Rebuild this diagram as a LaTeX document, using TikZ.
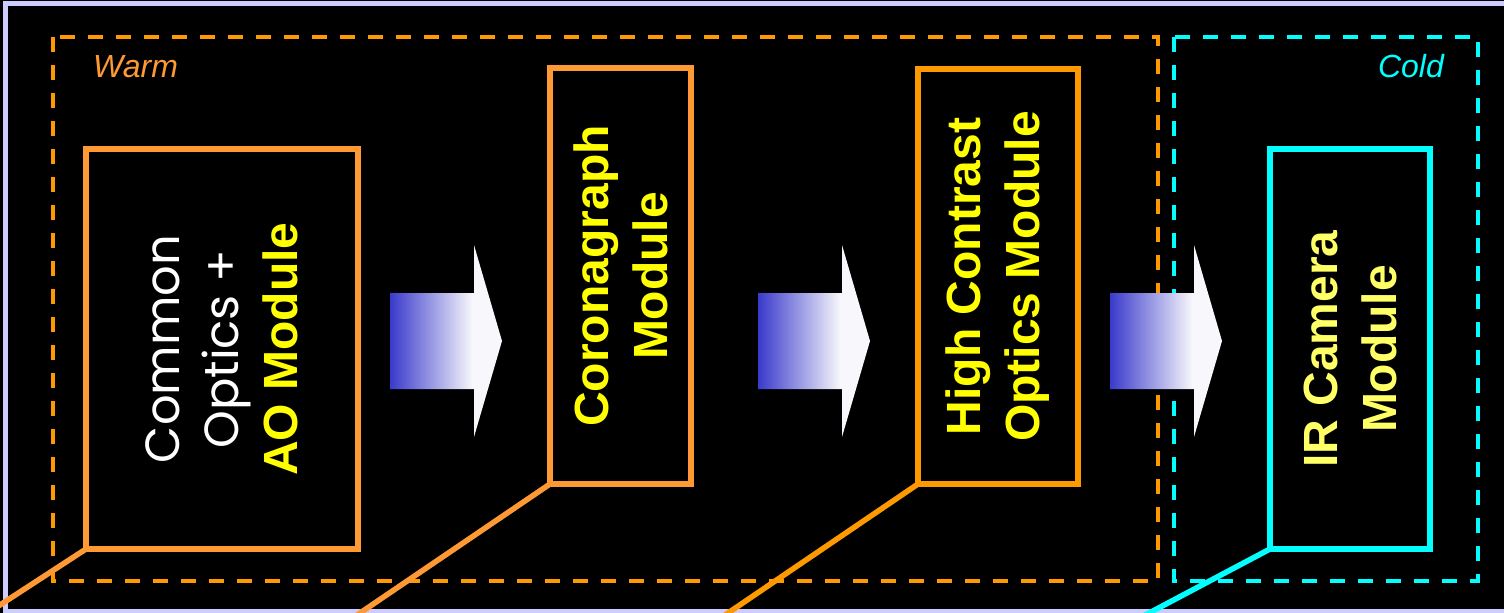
\documentclass[tikz,border=0pt]{standalone}
\usepackage{fontspec}
\setmainfont{Liberation Sans}
\newfontfamily\geofont{Poppins}

\definecolor{framelav}{RGB}{204,204,255}
\definecolor{warmorange}{RGB}{255,153,51}
\definecolor{deeporange}{RGB}{255,153,0}
\definecolor{coldcyan}{RGB}{0,255,255}
\definecolor{modyellow}{RGB}{255,255,0}
\definecolor{paleyellow}{RGB}{255,255,102}
\definecolor{arrowblue}{RGB}{58,58,204}
\definecolor{arrowwhite}{RGB}{248,248,252}

% blue-to-white fill of the flow arrows (path box maps to 25bp..75bp)
\pgfdeclarehorizontalshading{arrowgrad}{100bp}{%
  color(0bp)=(arrowblue); color(25bp)=(arrowblue);
  color(62bp)=(arrowwhite); color(100bp)=(arrowwhite)}

\begin{document}
\begin{tikzpicture}[x=1bp,y=-1bp,
  zone/.style={line width=4.5bp,dash pattern=on 15bp off 13bp},
  modbox/.style={draw=#1,line width=6bp,inner sep=0pt,outer sep=0pt},
  modtext/.style={rotate=90,align=center,inner sep=0pt,
    font=\fontsize{48bp}{59bp}\selectfont\bfseries},
  thintext/.style={font=\fontsize{48bp}{59bp}\selectfont\mdseries\geofont},
  zonelabel/.style={inner sep=0pt,font=\fontsize{32bp}{38bp}\selectfont\itshape},
  lead/.style={draw=#1,line width=5.5bp},
  flowarrow/.pic={
    \shade[shading=arrowgrad]
      (0,-48) -- (84,-48) -- (84,-96) -- (112,0) -- (84,96) -- (84,48) -- (0,48) -- cycle;
  }]
\useasboundingbox (0,0) rectangle (1504,613);
\clip (0,0) rectangle (1504,613);
\fill[black] (0,0) rectangle (1504,613);

% outer frame
\draw[framelav,line width=5.5bp] (5.5,3.5) rectangle (1540,611.5);

% temperature zones
\draw[zone,deeporange] (53,37) rectangle (1158,581);
\draw[zone,coldcyan] (1174,37) rectangle (1478,581);
\node[zonelabel,text=warmorange,anchor=base west] (warm) at (93,78) {Warm};
\node[zonelabel,text=coldcyan,anchor=base east] (cold) at (1444,78) {Cold};

% modules
\node[modbox=warmorange,minimum width=272bp,minimum height=400bp] (b1) at (222,349) {};
\node[modbox=warmorange,minimum width=141bp,minimum height=416bp] (b2) at (620.5,276) {};
\node[modbox=deeporange,minimum width=160bp,minimum height=415bp] (b3) at (998,276.5) {};
\node[modbox=coldcyan,minimum width=160bp,minimum height=400bp] (b4) at (1350,349) {};

\node[modtext,text=white] (t1) at (b1.center)
  {\mdseries\geofont Common\\\mdseries\geofont Optics +\\\color{modyellow}AO Module};
\node[modtext,text=modyellow] (t2) at (b2.center) {Coronagraph\\Module};
\node[modtext,text=modyellow] (t3) at (b3.center) {High Contrast\\Optics Module};
\node[modtext,text=paleyellow] (t4) at (b4.center) {IR Camera\\Module};

% leader lines running off the lower edge
\coordinate (e1) at (-20,618);
\coordinate (e2) at (335,630);
\coordinate (e3) at (703,630);
\coordinate (e4) at (1117,630);
\draw[lead=warmorange] (b1.south west) -- (e1);
\draw[lead=warmorange] (b2.south west) -- (e2);
\draw[lead=deeporange] (b3.south west) -- (e3);
\draw[lead=coldcyan] (b4.south west) -- (e4);

% flow arrows between modules
\pic (a1) at (390,341) {flowarrow};
\pic (a2) at (758,341) {flowarrow};
\pic (a3) at (1110,341) {flowarrow};
\end{tikzpicture}
\end{document}
